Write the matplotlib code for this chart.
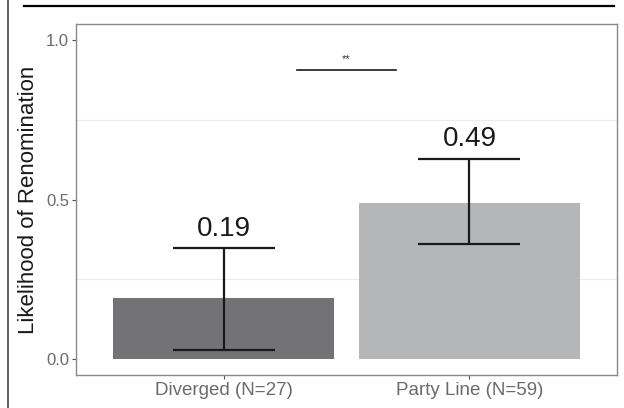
import matplotlib
matplotlib.use('Agg')
import matplotlib.pyplot as plt
from matplotlib.lines import Line2D
import numpy as np

plt.rcParams['font.family'] = ['Liberation Sans', 'DejaVu Sans']

groups = ['Diverged (N=27)', 'Party Line (N=59)']
rates = [0.19, 0.49]
ci_low = [0.029, 0.362]
ci_high = [0.347, 0.628]
bar_colors = ['#737376', '#b5b6b8']
sig_label = '**'

fig = plt.figure(figsize=(6.24, 4.08), dpi=100)
ax = fig.add_axes([76 / 624, 33 / 408, 541 / 624, 351 / 408])

x = np.arange(1, len(groups) + 1)
ax.bar(x, rates, width=0.9, color=bar_colors, zorder=2)

# error bars from the interval bounds
lo = np.array(rates) - np.array(ci_low)
hi = np.array(ci_high) - np.array(rates)
ax.errorbar(x, rates, yerr=[lo, hi], fmt='none', ecolor='#1a1a1a',
            elinewidth=1.6, capsize=37, capthick=1.6, zorder=3)

for xi, r, top in zip(x, rates, ci_high):
    ax.text(xi, top + 0.02, f'{r:.2f}', ha='center', va='bottom',
            fontsize=20, color='#1a1a1a', zorder=4)

# significance bracket
ax.plot([1.3, 1.7], [0.905, 0.905], color='#1a1a1a', lw=1.2, zorder=4)
ax.text(1.5, 0.925, sig_label, ha='center', va='bottom', fontsize=8,
        color='#333333')

ax.set_xlim(0.4, 2.6)
ax.set_ylim(-0.05, 1.05)
ax.set_xticks(x)
ax.set_xticklabels(groups, fontsize=13.5, color='#6b6b6b')
ax.set_yticks([0.0, 0.5, 1.0])
ax.set_yticklabels(['0.0', '0.5', '1.0'], fontsize=12, color='#6b6b6b')
ax.set_yticks([0.25, 0.75], minor=True)
ax.tick_params(axis='both', which='major', length=3, width=0.8,
               color='#555555', pad=2)
ax.tick_params(axis='y', which='minor', length=0)
ax.grid(axis='y', which='minor', color='#ebebeb', lw=0.8, zorder=0)
ax.set_ylabel('Likelihood of Renomination', fontsize=16, color='#1a1a1a',
              labelpad=5)
for s in ax.spines.values():
    s.set_color('#8a8a8a')
    s.set_linewidth(1.0)

# page rules around the figure
fig.add_artist(Line2D([24 / 624, 614 / 624], [1 - 6 / 408, 1 - 6 / 408],
                      color='black', lw=1.6))
fig.add_artist(Line2D([7.5 / 624, 7.5 / 624], [0, 1], color='#333333', lw=1.1))

fig.savefig('out.png', dpi=100)
